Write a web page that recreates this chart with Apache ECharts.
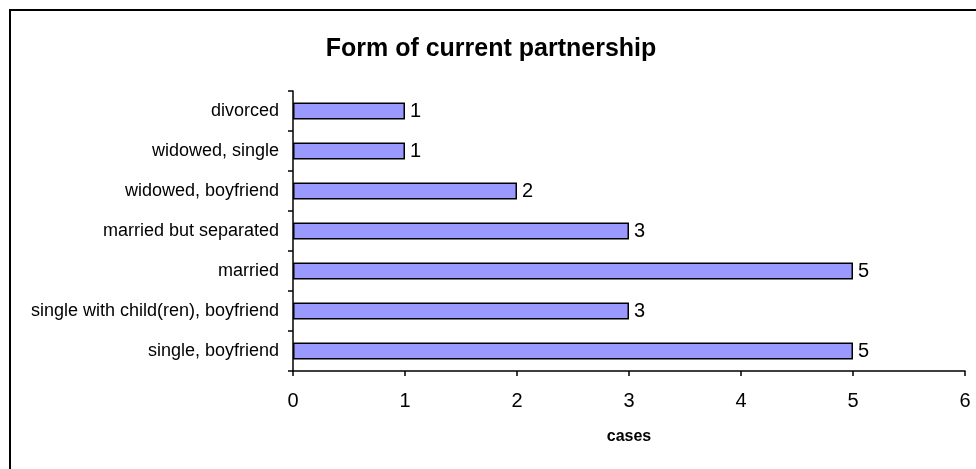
<!DOCTYPE html>
<html>
<head>
<meta charset="utf-8">
<script src="https://cdn.jsdelivr.net/npm/echarts@6/dist/echarts.min.js"></script>
<style>
html,body{margin:0;padding:0;background:#fff;}
#chart{width:976px;height:469px;}
</style>
</head>
<body>
<div id="chart"></div>
<script>
const title = "Form of current partnership";
const categories = ["divorced", "widowed, single", "widowed, boyfriend", "married but separated", "married", "single with child(ren), boyfriend", "single, boyfriend"];
const cases = [1, 1, 2, 3, 5, 3, 5];
const xAxisName = "cases";
const xMin = 0, xMax = 6, xStep = 1;

const chart = echarts.init(document.getElementById('chart'), null, {renderer: 'canvas'});
const font = "Liberation Sans, Arial, sans-serif";
chart.setOption({
  animation: false,
  backgroundColor: '#ffffff',
  title: {
    text: title,
    left: 486, top: 32, textAlign: 'center',
    textStyle: {fontFamily: font, fontWeight: 'bold', fontSize: 25, color: '#000'}
  },
  graphic: [{
    type: 'rect', shape: {x: 10, y: 10, width: 990, height: 490},
    style: {fill: 'none', stroke: '#000', lineWidth: 2}, silent: true
  }],
  grid: {left: 293, right: 11, top: 91, bottom: 98, containLabel: false},
  xAxis: {
    type: 'value', min: xMin, max: xMax, interval: xStep,
    name: xAxisName, nameLocation: 'middle', nameGap: 58,
    nameTextStyle: {fontFamily: font, fontWeight: 'bold', fontSize: 16, color: '#000'},
    axisLine: {show: true, lineStyle: {color: '#000', width: 1.5}},
    axisTick: {show: true, length: 5, lineStyle: {color: '#000', width: 1.5}},
    axisLabel: {fontFamily: font, fontSize: 20, color: '#000', margin: 20},
    splitLine: {show: false}
  },
  yAxis: {
    type: 'category', data: categories, inverse: true,
    axisLine: {show: true, lineStyle: {color: '#000', width: 1.5}},
    axisTick: {show: true, length: 5, alignWithLabel: false, lineStyle: {color: '#000', width: 1.5}},
    axisLabel: {fontFamily: font, fontSize: 18, color: '#000', margin: 14}
  },
  series: [{
    type: 'bar', data: cases, barWidth: 17,
    itemStyle: {color: '#9999ff', borderColor: '#000', borderWidth: 1.5},
    label: {show: true, position: 'right', distance: 5, fontFamily: font, fontSize: 20, color: '#000'}
  }]
});
</script>
</body>
</html>
